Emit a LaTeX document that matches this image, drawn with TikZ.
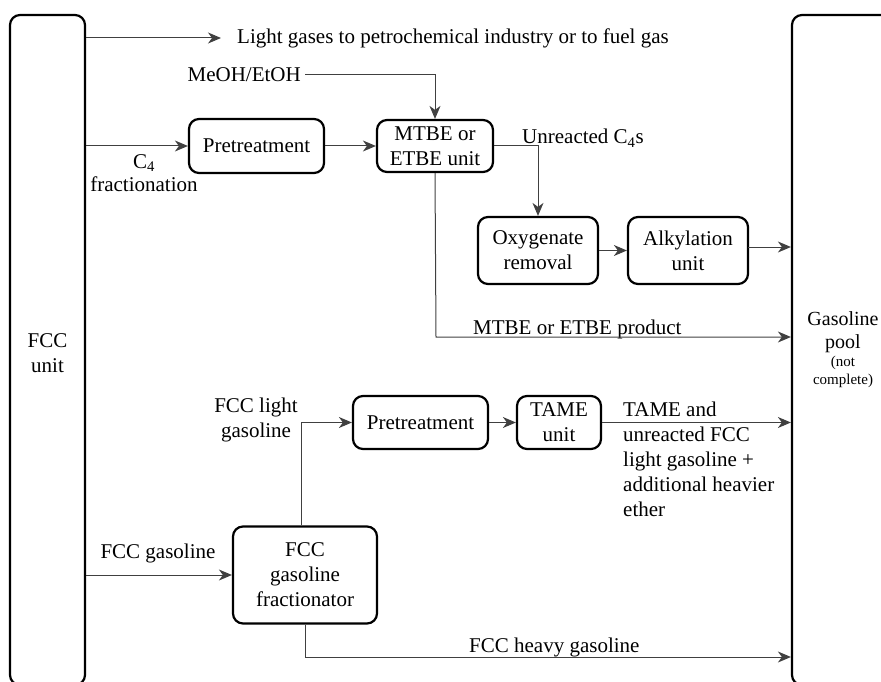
\documentclass[tikz,border=0pt]{standalone}
\usepackage{fontspec}
\setmainfont{Liberation Serif}
\usetikzlibrary{arrows.meta}
\begin{document}
\begin{tikzpicture}[x=1pt,y=-1pt,
  font=\fontsize{21}{25}\selectfont,
  box/.style={draw, line width=2.2pt, rounded corners=10pt, align=center, inner sep=0pt},
  conn/.style={line width=1pt, draw=black!75, -{Stealth[length=13pt,width=11pt,inset=4pt]}},
  lbl/.style={inner sep=0pt, align=center},
  lbll/.style={inner sep=0pt, align=left}]
\useasboundingbox (0,0) rectangle (881,682);
\clip (0,0) rectangle (881,682);
% big side boxes
\node[box, minimum width=75, minimum height=670] (fcc) at (47.5,350) {};
\node[lbl] (fcclbl) at (47.5,353) {FCC\\unit};
\node[box, minimum width=110, minimum height=670] (pool) at (847,350) {};
\node[lbl, font=\fontsize{20}{23}\selectfont] (poollbl) at (843,350) {Gasoline\\pool\\[-5pt]{\fontsize{15}{19}\selectfont (not}\\[-5pt]{\fontsize{15}{19}\selectfont complete)}};
% process boxes
\node[box, minimum width=135, minimum height=54] (pre1) at (256.5,146) {Pretreatment};
\node[box, minimum width=116, minimum height=52] (mtbe) at (435,146) {MTBE or\\ETBE unit};
\node[box, minimum width=120, minimum height=67] (oxy) at (538,250.5) {Oxygenate\\removal};
\node[box, minimum width=120, minimum height=67] (alk) at (688,250.5) {Alkylation\\unit};
\node[box, minimum width=135, minimum height=53] (pre2) at (420.5,422.5) {Pretreatment};
\node[box, minimum width=84, minimum height=53] (tame) at (559,422.5) {TAME\\unit};
\node[box, minimum width=144, minimum height=97] (frac) at (305,575) {FCC\\gasoline\\fractionator};
% labels
\node[lbl, anchor=west] (lg) at (237,38) {Light gases to petrochemical industry or to fuel gas};
\node[lbl, anchor=east] (meoh) at (301,75) {MeOH/EtOH};
\node[lbl, font=\fontsize{21}{23}\selectfont] (c4) at (144,173) {C\textsubscript{4}\\fractionation};
\node[lbl, anchor=base west] (unr) at (522,144) {Unreacted C\textsubscript{4}s};
\node[lbl, anchor=base west] (mprod) at (473,334) {MTBE or ETBE product};
\node[lbl] (flg) at (256,420) {FCC light\\gasoline};
\node[lbll, anchor=north west] (tamel) at (623,402) {TAME and\\unreacted FCC\\light gasoline +\\additional heavier\\ether};
\node[lbl] (fccg) at (158,553) {FCC gasoline};
\node[lbl, anchor=base west] (heavy) at (469,652) {FCC heavy gasoline};
% bend points
\coordinate (mp) at (436,337);
\coordinate (hv) at (305,657);
\coordinate (alkout) at (748,247);
% connectors
\draw[conn] (fcc.east |- lg.west) -- ([xshift=-16pt]lg.west);
\draw[conn] ([xshift=4pt]meoh.east) -| (mtbe.north);
\draw[conn] (fcc.east |- pre1.west) -- (pre1.west);
\draw[conn] (pre1) -- (mtbe);
\draw[conn] (mtbe.east) -| (oxy.north);
\draw[conn] (oxy) -- (alk);
\draw[conn] (alkout) -- (alkout -| pool.west);
\draw[conn] (mtbe.south) -- (mp) -- (mp -| pool.west);
\draw[conn] ([xshift=-4pt]frac.north) |- (pre2.west);
\draw[conn] (pre2) -- (tame);
\draw[conn] (tame.east) -- (tame.east -| pool.west);
\draw[conn] (fcc.east |- frac.west) -- (frac.west);
\draw[conn] (frac.south) -- (hv) -- (hv -| pool.west);
\end{tikzpicture}
\end{document}
